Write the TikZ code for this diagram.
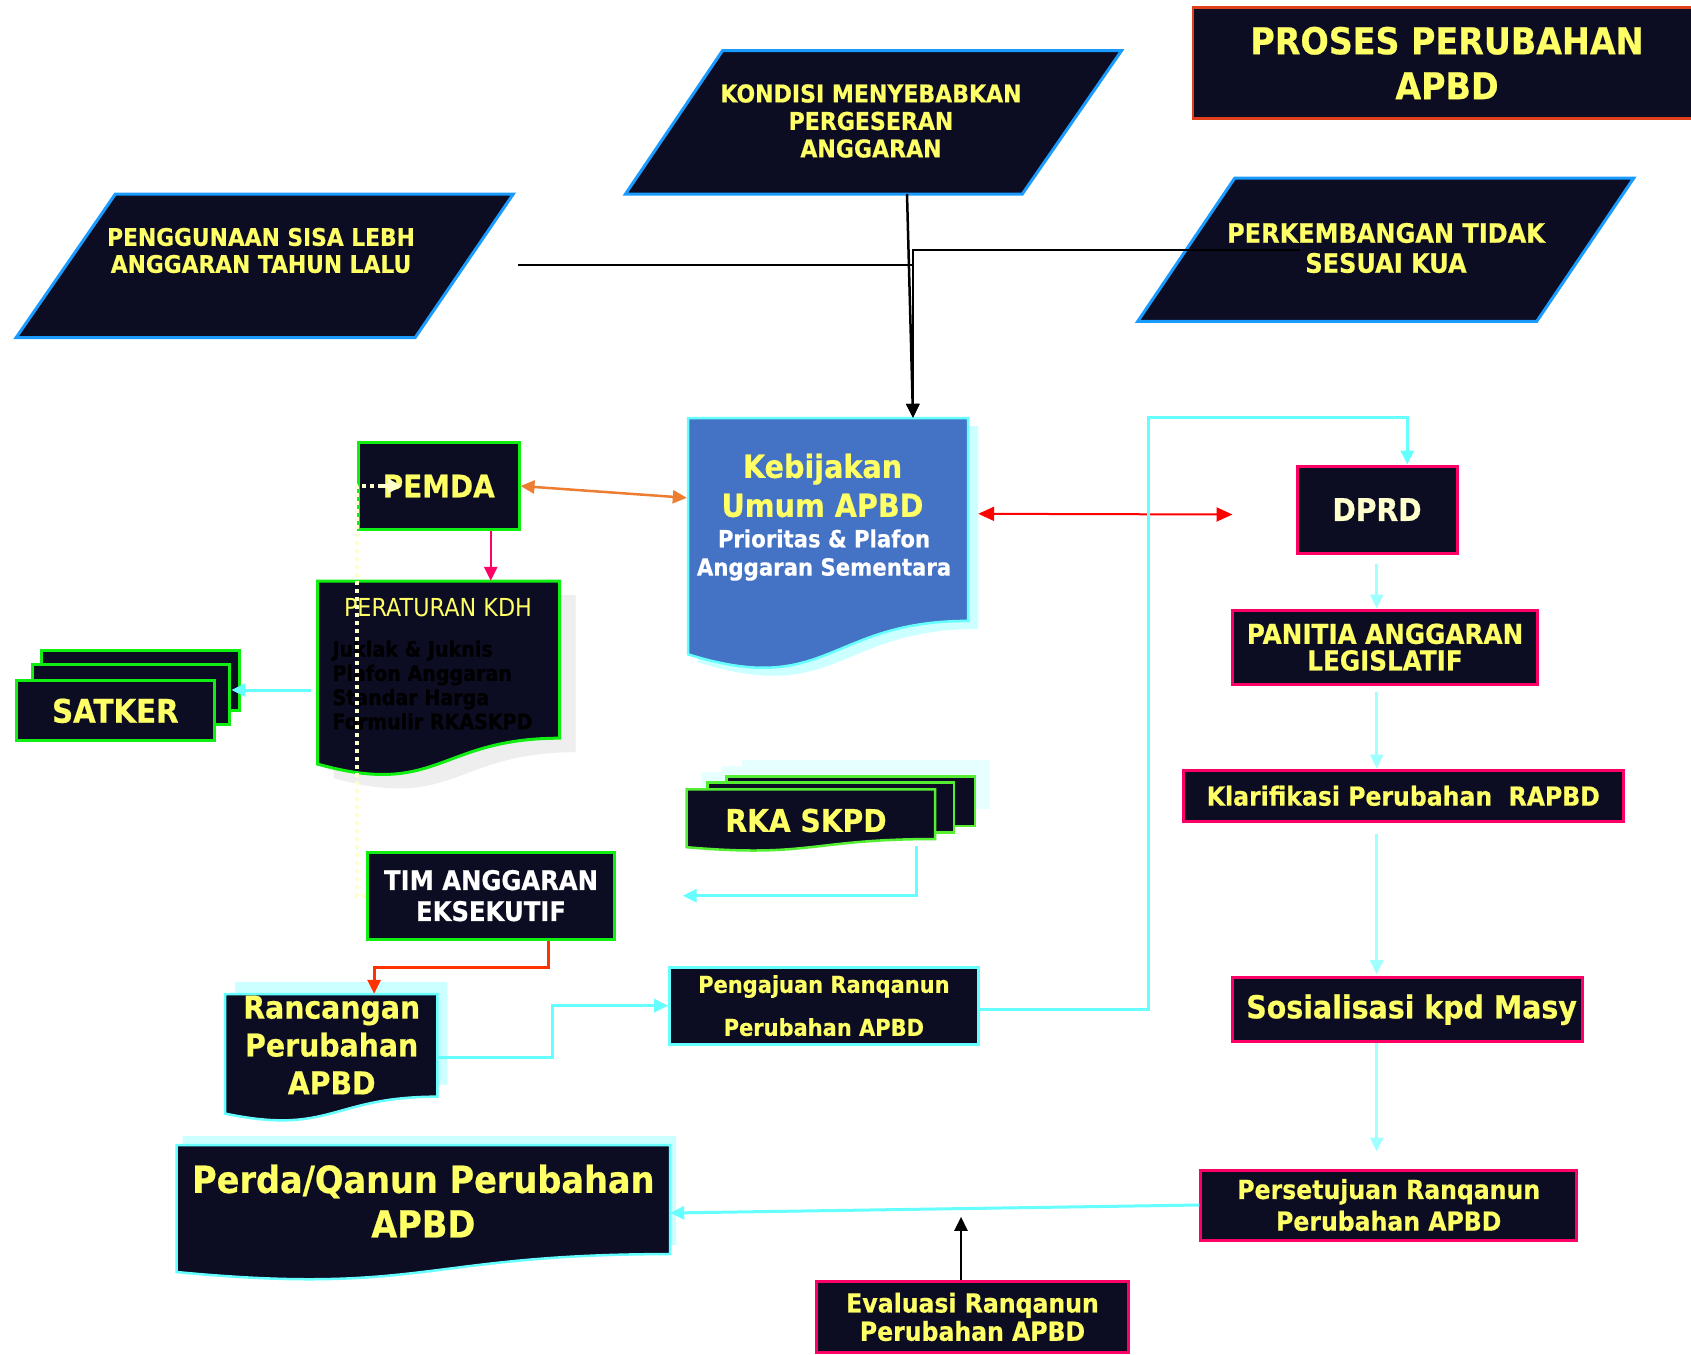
\documentclass[tikz,border=0pt]{standalone}
\usepackage{fontspec}
\setmainfont{DejaVu Sans}[FakeStretch=0.9, BoldFeatures={FakeBold=0.6}]
\usetikzlibrary{arrows.meta,calc}

\definecolor{navy}{HTML}{0C0C22}
\definecolor{yel}{HTML}{FFFF66}
\definecolor{cream}{HTML}{FFFFCC}
\definecolor{grn}{HTML}{11EE11}
\definecolor{lgrn}{HTML}{55EE33}
\definecolor{pblue}{HTML}{1A9BFF}
\definecolor{cpink}{HTML}{FF0066}
\definecolor{cyn}{HTML}{66FFFF}
\definecolor{pcyn}{HTML}{A0FFFF}
\definecolor{shcyn}{HTML}{CCFFFF}
\definecolor{shcyntwo}{HTML}{E6FFFF}
\definecolor{shgray}{HTML}{EEEEEE}
\definecolor{orng}{HTML}{ED7D31}
\definecolor{ored}{HTML}{FF3300}
\definecolor{tred}{HTML}{E0401A}
\definecolor{kblue}{HTML}{4472C4}

\newcommand{\setfs}[2]{\fontsize{#1}{#2}\selectfont}
% flowchart "document" outline: style, left, top, width, height
\newcommand{\docshape}[5]{%
  \path[#1] (#2,#3) -- ({#2+#4},#3) -- ({#2+#4},{#3+0.802*#5})
    .. controls ({#2+0.5*#4},{#3+0.802*#5}) and ({#2+0.5*#4},{#3+1.107*#5})
    .. (#2,{#3+0.934*#5}) -- cycle;}

\begin{document}
\begin{tikzpicture}[x=1pt,y=-1pt,
  arr/.style={-{Triangle[length=14pt,width=13pt]}},
  darr/.style={{Triangle[length=14pt,width=13pt]}-{Triangle[length=14pt,width=13pt]}},
  lbl/.style={inner sep=0pt, align=center, text=yel},
  bf/.style 2 args={font=\bfseries\setfs{#1}{#2}},
  md/.style 2 args={font=\mdseries\setfs{#1}{#2}},
  sz/.style 2 args={inner sep=0pt, minimum width=#1, minimum height=#2},
  gbox/.style={draw=grn, line width=3pt, fill=navy},
  pbox/.style={draw=cpink, line width=3pt, fill=navy},
  cbox/.style={draw=cyn, line width=3pt, fill=navy},
  slant/.style={draw=pblue, line width=3pt, fill=navy, line join=miter},
  cyanline/.style={draw=cyn, line width=3pt},
  pcol/.style={draw=pcyn, line width=3pt},
  blk/.style={draw=black, line width=2.5pt},
  dots/.style={draw=cream, line width=4pt, dash pattern=on 4pt off 4pt}]

\useasboundingbox (0,0) rectangle (1691,1354);
\fill[white] (0,0) rectangle (1691,1354);

% ---------- title ----------
\node[draw=tred, line width=2.5pt, fill=navy, sz={508pt}{111pt}, lbl, bf={37}{45}]
  (title) at (1447,63) {PROSES PERUBAHAN\\APBD};

% ---------- causes (parallelograms) ----------
\path[slant] (722.5,50.7) -- (1121.5,50.7) -- (1022.3,194) -- (625.5,194) -- cycle;
\node[lbl, bf={24.5}{27.5}] (kondisi) at (871,121)
  {KONDISI MENYEBABKAN\\PERGESERAN\\ANGGARAN};
\path[slant] (115.4,194) -- (513.3,194) -- (415.2,337.5) -- (16.2,337.5) -- cycle;
\node[lbl, bf={24.2}{27}] (sisa) at (261,250.5)
  {PENGGUNAAN SISA LEBH\\ANGGARAN TAHUN LALU};
\path[slant] (1234.8,178) -- (1633.8,178) -- (1536.7,321.4) -- (1137.7,321.4) -- cycle;
\node[lbl, bf={26.7}{30}] (kua) at (1386,248)
  {PERKEMBANGAN TIDAK\\SESUAI KUA};

% ---------- Kebijakan Umum APBD ----------
\docshape{fill=shcyn}{698}{426}{280}{253}
\docshape{fill=kblue, draw=cyn, line width=2.5pt}{688}{418}{280}{253}
\node[sz={280pt}{253pt}] (keb) at (828,544.5) {};
\node[lbl, bf={31.8}{39}] (kebt) at (822.5,485.5) {Kebijakan\\Umum APBD};
\node[lbl, bf={23.6}{28.3}, text=white] (kebs) at (824,555)
  {Prioritas \& Plafon\\Anggaran Sementara};

% ---------- PEMDA ----------
\node[gbox, sz={160.5pt}{86.6pt}, lbl, bf={31}{36}] (pemda) at (438.75,486) {PEMDA};

% ---------- Peraturan KDH ----------
\docshape{fill=shgray}{333.5}{595}{242}{196}
\docshape{fill=navy, draw=grn, line width=3pt}{317.5}{581}{242}{196}
\node[sz={242pt}{196pt}] (kdh) at (438.5,679) {};
\node[lbl, md={24.8}{28}] (kdht) at (438,608) {PERATURAN KDH};
\node[inner sep=0pt, align=left, text=black, bf={21.2}{24.2}, anchor=west] (kdhb)
  at (332.3,685) {Juklak \& Juknis\\Plafon Anggaran\\Standar Harga\\Formulir RKASKPD};

% ---------- SATKER (stack) ----------
\node[gbox, sz={197.5pt}{60pt}] (satk3) at (140.5,680.7) {};
\node[gbox, sz={197.5pt}{60pt}] (satk2) at (131.15,694.65) {};
\node[gbox, sz={197.5pt}{60pt}, lbl, bf={32.5}{36}] (satker) at (115.35,710.85) {SATKER};

% ---------- RKA SKPD (multi-document) ----------
\fill[shcyntwo] (741.7,759.7) rectangle (990,809);
\fill[shcyntwo] (722.3,765.7) rectangle (969,815.7);
\docshape{fill=shcyntwo}{701.7}{772.3}{248.3}{62}
\node[draw=lgrn, line width=2.5pt, fill=navy, sz={248.3pt}{49.3pt}] (rka3) at (850.85,801.35) {};
\node[draw=lgrn, line width=2.5pt, fill=navy, sz={246.7pt}{50pt}] (rka2) at (830.65,807.7) {};
\docshape{fill=navy, draw=lgrn, line width=2.5pt}{686.7}{789.3}{248.3}{62}
\node[sz={248.3pt}{62pt}] (rka) at (810.85,820.3) {};
\node[lbl, bf={31.3}{36}] (rkat) at (806,820.5) {RKA SKPD};

% ---------- Tim Anggaran Eksekutif ----------
\node[gbox, sz={246.6pt}{86.7pt}, lbl, text=white, bf={27}{31}] (tim) at (491,895.65)
  {TIM ANGGARAN\\EKSEKUTIF};

% ---------- Rancangan Perubahan APBD ----------
\docshape{fill=shcyn}{235}{982}{212.3}{128}
\docshape{fill=navy, draw=cyn, line width=2.5pt}{225}{994}{212.3}{128}
\node[sz={212.3pt}{128pt}] (ranc) at (331.15,1058) {};
\node[lbl, bf={31.5}{37.9}] (ranct) at (331.7,1045) {Rancangan\\Perubahan\\APBD};

% ---------- Pengajuan ----------
\node[cbox, sz={308.3pt}{76.7pt}, lbl, bf={23.3}{43}] (peng) at (823.85,1005.65)
  {Pengajuan Ranqanun\\Perubahan APBD};

% ---------- Perda / Qanun ----------
\docshape{fill=shcyn}{182.7}{1136}{493.3}{136}
\docshape{fill=navy, draw=cyn, line width=2.5pt}{176.7}{1145}{493.3}{136}
\node[sz={493.3pt}{136pt}] (perda) at (423.35,1213) {};
\node[lbl, bf={37.3}{44.6}] (perdat) at (423.3,1201) {Perda/Qanun Perubahan\\APBD};

% ---------- legislative column ----------
\node[pbox, sz={160pt}{87pt}, lbl, text=cream, bf={31.3}{36}] (dprd) at (1377,509.5) {DPRD};
\node[pbox, sz={304.6pt}{74.3pt}, lbl, bf={27.4}{26.6}] (panitia) at (1385,647.15)
  {PANITIA ANGGARAN\\LEGISLATIF};
\node[pbox, sz={440pt}{51.7pt}, lbl, bf={26.2}{30}] (klar) at (1403.3,795.85)
  {Klarifikasi Perubahan\ \ RAPBD};
\node[pbox, sz={349.7pt}{64pt}, lbl, bf={31.6}{36}] (sosial) at (1407.55,1009.7)
  {\hspace*{8pt}Sosialisasi kpd Masy};
\node[pbox, sz={375.8pt}{70pt}, lbl, bf={26.2}{31.7}] (pers) at (1388.7,1205)
  {Persetujuan Ranqanun\\Perubahan APBD};
\node[pbox, sz={311.6pt}{70.3pt}, lbl, bf={26.2}{28.3}] (eval) at (972.5,1316.85)
  {Evaluasi Ranqanun\\Perubahan APBD};

% ---------- connectors ----------
\coordinate (kondisi-out) at (907,194);
\coordinate (keb-in) at ($(keb.north)+(85,0)$);
\coordinate (sisa-out) at (518,265);
\coordinate (kua-out) at (1300,250);
\draw[blk] (sisa-out) -- (sisa-out -| keb-in);
\draw[blk, arr] (kua-out) -| (keb-in);
\draw[blk, arr] (kondisi-out) -- (keb-in);

\draw[orng, line width=2.5pt, darr] (pemda.east) -- ($(keb.north west)+(-1,80)$);
\draw[cpink, line width=2.5pt, arr] ([xshift=52pt]pemda.south) -- ([xshift=52pt]pemda.south |- kdh.north);

\coordinate (kdh-out) at ($(kdh.west)+(-6,11)$);
\draw[cyanline, arr] (kdh-out) -- (kdh-out -| satk2.east);

% dotted feedback from the budget team up to PEMDA, with a solid head
\coordinate (dotx) at (357,0);
\coordinate (dot-end) at ($(pemda.west)+(28,0)$);
\draw[dots] (tim.west) -- (tim.west -| dotx) -- (dotx |- pemda.west) -- (dot-end);
\draw[cream, line width=4pt, -{Triangle[length=14pt,width=14pt]}]
  ($(dot-end)+(-4,0)$) -- ($(pemda.west)+(45,0)$);

\draw[red, line width=2pt, {Triangle[length=16pt,width=14pt]}-{Triangle[length=16pt,width=14pt]}]
  ($(keb.north east)+(10,96)$) -- ($(dprd.west)+(-63,5)$);

\coordinate (loopx) at (1148.5,417.5);
\draw[cyanline, arr] ([yshift=-3.5pt]peng.east) -| (loopx) -| ([xshift=30.3pt]dprd.north);

\coordinate (colx) at (1376.7,0);
\draw[pcol, arr] ($(dprd.south)+(-0.3,9)$) -- (colx |- panitia.north);
\draw[pcol, arr] ($(panitia.south)+(-8.3,6)$) -- (colx |- klar.north);
\draw[pcol, arr] ($(klar.south)+(-26.6,11)$) -- ($(colx |- sosial.north)+(0,-2)$);
\draw[pcol, arr] (colx |- sosial.south) -- ($(colx |- pers.north)+(0,-17)$);

\draw[cyanline, arr] (pers.west) -- (perda.east);
\draw[blk, arr] ([xshift=-11.5pt]eval.north) -- ++(0,-63.4);

\coordinate (rpx) at (552.7,0);
\coordinate (ranc-out) at ($(ranc.north east)+(0,63.7)$);
\draw[cyanline, arr] (ranc-out) -- (ranc-out -| rpx) -- (rpx |- peng.west) -- (peng.west);

\draw[ored, line width=3pt, arr] ([xshift=57.3pt]tim.south) -- ++(0,27)
  -| ($(ranc.north west)+(149.3,0)$);

\coordinate (rka-out) at ($(rka.north east)+(-18.3,56.7)$);
\coordinate (rka-end) at (682.7,895.7);
\draw[cyanline, arr] (rka-out) |- (rka-end);

\end{tikzpicture}
\end{document}
